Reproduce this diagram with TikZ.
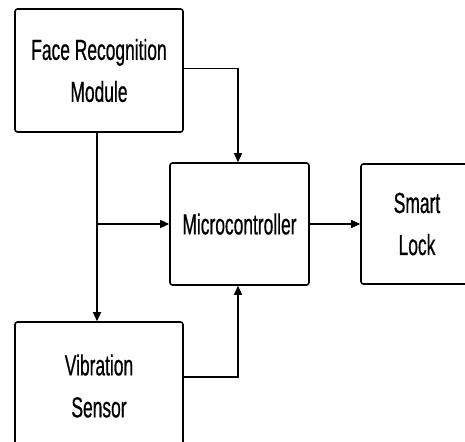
\documentclass[tikz,border=0pt]{standalone}
\usepackage{fontspec}
\setmainfont[FakeStretch=0.6,FakeBold=0.6]{Liberation Sans}
\usetikzlibrary{arrows.meta,calc}
\tikzset{
  blk/.style={draw=black, line width=1.6pt, rounded corners=2.5pt, fill=white,
    align=center, inner sep=0pt, font=\fontsize{29}{42}\selectfont},
  conn/.style={draw=black, line width=1.3pt, -{Triangle[length=9pt,width=8pt]}},
  wire/.style={draw=black, line width=1.3pt}
}
\begin{document}
\begin{tikzpicture}[x=1pt,y=1pt]
\useasboundingbox (0,0) rectangle (465,-441);
\clip (0,0) rectangle (465,-441);
\fill[white] (0,0) rectangle (465,-441);
\node[blk, minimum width=168pt, minimum height=123pt] (face) at (99,-70.5) {Face Recognition\\Module};
\node[blk, minimum width=139pt, minimum height=122pt] (mc) at (239.5,-224) {Microcontroller};
\node[blk, minimum width=112pt, minimum height=120pt] (lock) at (417,-224) {Smart\\Lock};
\node[blk, minimum width=168pt, minimum height=128pt] (vib) at (99,-386) {Vibration\\Sensor};
\coordinate (fb) at ([xshift=-2pt]face.south);
\coordinate (vt) at (fb |- vib.north);
\coordinate (br) at (fb |- mc.west);
\coordinate (fe) at ([yshift=2pt]face.east);
\coordinate (mt) at ([xshift=-1.5pt]mc.north);
\coordinate (ve) at ([yshift=9pt]vib.east);
\coordinate (mb) at ([xshift=-1.5pt]mc.south);
\draw[conn] (fb) -- (vt);
\draw[conn] (br) -- (mc.west);
\draw[conn] (fe) -| (mt);
\draw[conn] (ve) -| (mb);
\draw[conn] (mc.east) -- (lock.west);
\end{tikzpicture}
\end{document}
